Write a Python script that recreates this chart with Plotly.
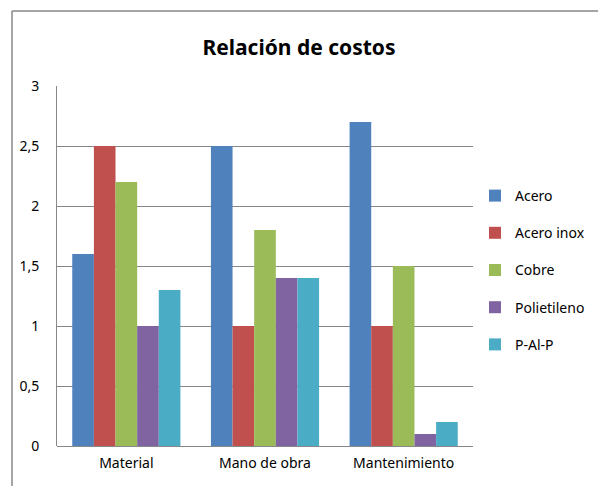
import plotly.graph_objects as go

categories = ["Material", "Mano de obra", "Mantenimiento"]
series_names = ["Acero", "Acero inox", "Cobre", "Polietileno", "P-Al-P"]
acero = [1.6, 2.5, 2.7]
acero_inox = [2.5, 1.0, 1.0]
cobre = [2.2, 1.8, 1.5]
polietileno = [1.0, 1.4, 0.1]
p_al_p = [1.3, 1.4, 0.2]
colors = ["#4F81BD", "#C0504D", "#9BBB59", "#8064A2", "#4BACC6"]

W, H = 598, 486
L, R, T, B = 57, 473, 86, 446

fig = go.Figure()
for name, vals, col in zip(series_names, [acero, acero_inox, cobre, polietileno, p_al_p], colors):
    fig.add_trace(go.Bar(x=categories, y=vals, name=name, marker_color=col,
                         marker_line_width=0, legendgroup=name))

pw, ph = R - L, B - T
gray = "#878787"
# outer chart border (top and left edges visible)
fig.add_shape(type="line", xref="paper", yref="paper",
              x0=(12 - L) / pw, x1=(W + 10 - L) / pw,
              y0=(B - 11) / ph, y1=(B - 11) / ph,
              line=dict(color=gray, width=1.5))
fig.add_shape(type="line", xref="paper", yref="paper",
              x0=(12 - L) / pw, x1=(12 - L) / pw,
              y0=(B - 11) / ph, y1=(B - H - 10) / ph,
              line=dict(color=gray, width=1.5))

fig.update_layout(
    width=W, height=H,
    margin=dict(l=L, r=W - R, t=T, b=H - B, autoexpand=False),
    paper_bgcolor="white", plot_bgcolor="white",
    separators=", ",
    font=dict(family="Noto Sans", size=14, color="#000000"),
    title=dict(text="<b>Relación de costos</b>", x=0.5, xanchor="center",
               y=1 - 48 / H, yanchor="middle",
               font=dict(size=21, family="Noto Sans")),
    bargap=0.22, bargroupgap=0,
    legend=dict(x=(475 - L) / pw, xanchor="left", y=(B - 270) / ph, yanchor="middle",
                tracegroupgap=16, traceorder="grouped",
                font=dict(size=14), itemwidth=30),
    showlegend=True,
)
fig.update_xaxes(showline=False, ticks="", tickfont=dict(size=14), ticklabelstandoff=7)
fig.update_yaxes(range=[0, 3], dtick=0.5, showgrid=True, gridcolor=gray,
                 gridwidth=1, showline=True, linecolor=gray, linewidth=1,
                 zeroline=True, zerolinecolor=gray, zerolinewidth=1,
                 ticks="", ticklabelstandoff=14, tickfont=dict(size=14))

# drop the default 8px body margin so the figure sits at the window origin
fig.write_html("out.html", config={"displayModeBar": False},
               post_script="document.body.style.margin='0';")
